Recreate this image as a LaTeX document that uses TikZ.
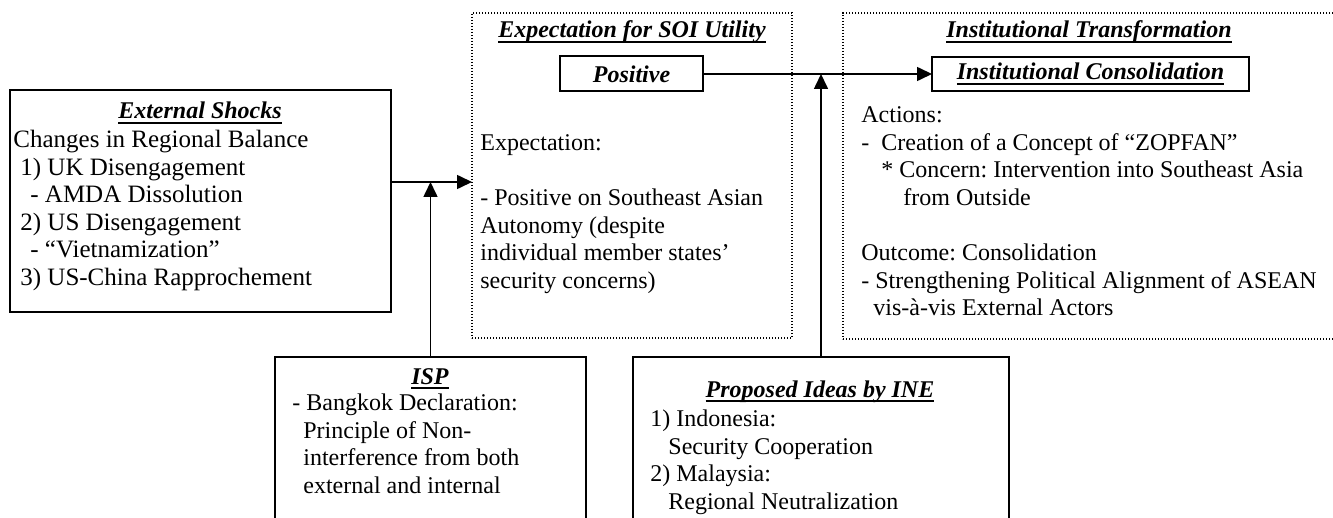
\documentclass[tikz,border=0pt]{standalone}
\usepackage{fontspec}
\setmainfont{Liberation Serif}
\usepackage{xcolor}
\definecolor{cLine}{HTML}{000000}
\usepackage{tikz}
\usetikzlibrary{arrows.meta,calc}
\frenchspacing
\newcommand{\bodyfont}{\fontsize{12pt}{13.8pt}\selectfont}
\newsavebox{\ttlbox}
\newcommand{\ttl}[1]{\sbox{\ttlbox}{\textbf{\textit{#1}}}%
  \rlap{\rule[-2.6pt]{\wd\ttlbox}{1.1pt}}\usebox{\ttlbox}}
\tikzset{
  box-solid/.style={draw=cLine,line width=1pt,anchor=north west,
    inner sep=0pt,outer sep=0pt},
  box-dotted/.style={draw=cLine,line width=0.6pt,
    dash pattern=on 0.6pt off 0.9pt,anchor=north west,
    inner sep=0pt,outer sep=0pt},
  box-label/.style={draw=cLine,line width=1pt,inner sep=0pt,
    outer sep=0pt,font=\bodyfont},
  text-title/.style={font=\bodyfont,inner sep=0pt,anchor=base},
  text-body/.style={font=\bodyfont,inner sep=0pt,align=left,
    anchor=north west},
  arrow/.style={-{Triangle[length=7.5pt,width=7pt]},line width=0.8pt,
    draw=cLine},
}

\begin{document}
\begin{tikzpicture}[x=0.5pt,y=-0.5pt]
  \useasboundingbox (0,0) rectangle (1333,518);
  \clip (0,0) rectangle (1333,518);

  % boxes
  \node[box-solid,minimum width=190.5pt,minimum height=111pt] (ext) at (10,90) {};
  \node[box-dotted,minimum width=160pt,minimum height=162.5pt] (exp) at (472,13) {};
  \node[box-dotted,minimum width=251pt,minimum height=163pt] (inst) at (843,13) {};
  \node[box-solid,minimum width=155.5pt,minimum height=100pt] (isp) at (275,357) {};
  \node[box-solid,minimum width=188pt,minimum height=100pt] (prop) at (633,357) {};
  \node[box-label,minimum width=71.5pt,minimum height=17.5pt] (pos) at (631.5,74)
    {\textbf{\textit{Positive}}};
  \node[box-label,minimum width=158.5pt,minimum height=17pt] (con) at (1090.5,74)
    {\ttl{Institutional Consolidation}};

  % titles
  \node[text-title] (ext-title) at (200,119) {\ttl{External Shocks}};
  \node[text-title] (exp-title) at (632,38) {\ttl{Expectation for SOI Utility}};
  \node[text-title] (inst-title) at (1089,38) {\ttl{Institutional Transformation}};
  \node[text-title] (isp-title) at (430,384) {\ttl{ISP}};
  \node[text-title] (prop-title) at (820,397) {\ttl{Proposed Ideas by INE}};

  % body texts
  \node[text-body,font=\fontsize{12.5pt}{13.8pt}\selectfont] (ext-text) at (13,127.7)
    {\strut Changes in Regional Balance\\
    \hspace{3.5pt}1) UK Disengagement\\
    \hspace{8.5pt}- AMDA Dissolution\\
    \hspace{3.5pt}2) US Disengagement\\
    \hspace{8.5pt}- “Vietnamization”\\
    \hspace{3.5pt}3) US-China Rapprochement};
  \node[text-body] (exp-text) at (480,130.7) {\strut Expectation:\\[13.8pt]
    - Positive on Southeast Asian\\
    Autonomy (despite\\
    individual member states’\\
    security concerns)};
  \node[text-body] (inst-text) at (861,102.7) {\strut Actions:\\
    -\hspace{6pt}Creation of a Concept of “ZOPFAN”\\
    \hspace{10pt}* Concern: Intervention into Southeast Asia\\
    \hspace{21pt}from Outside\\[13.8pt]
    Outcome: Consolidation\\
    - Strengthening Political Alignment of ASEAN\\
    \hspace{6pt}vis-à-vis External Actors};
  \node[text-body] (isp-text) at (292,390.7) {\strut - Bangkok Declaration:\\
    \hspace{5.5pt}Principle of Non-\\
    \hspace{5.5pt}interference from both\\
    \hspace{5.5pt}external and internal};
  \node[text-body] (prop-text) at (650,406.7) {\strut 1) Indonesia:\\
    \hspace{9pt}Security Cooperation\\
    2) Malaysia:\\
    \hspace{9pt}Regional Neutralization};

  % arrows
  \coordinate (j1) at (isp.north |- 0,182);
  \draw[arrow] (ext.east |- j1) -- (exp.west |- j1);
  \draw[arrow] (isp.north) -- (j1);
  \draw[arrow] (pos.east) -- (con.west);
  \draw[arrow] (prop.north) -- (prop.north |- pos.east);
\end{tikzpicture}
\end{document}
